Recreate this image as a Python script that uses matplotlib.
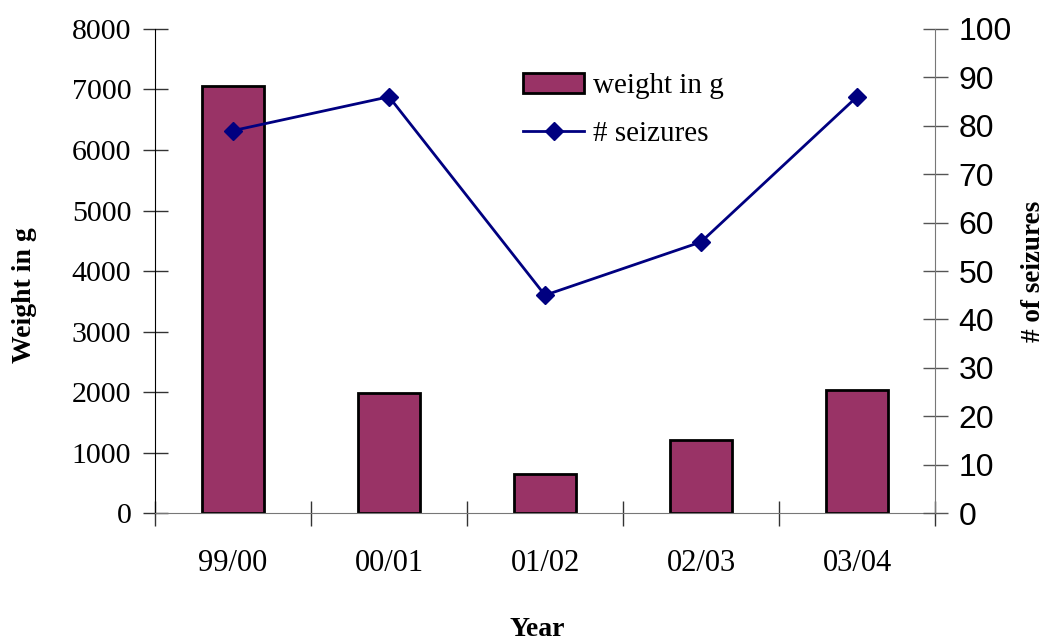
import matplotlib
matplotlib.use("Agg")
import matplotlib.pyplot as plt
import numpy as np

# data
years = ["99/00", "00/01", "01/02", "02/03", "03/04"]
weight_g = [7060, 1990, 650, 1200, 2030]
seizures = [79, 86, 45, 56, 86]

serif = ["Liberation Serif", "DejaVu Serif"]
sans = ["Liberation Sans", "DejaVu Sans"]

fig = plt.figure(figsize=(10.5, 6.4), dpi=100)
ax = fig.add_axes([0.1476, 0.1984, 0.7429, 0.7563])
ax2 = ax.twinx()

x = np.arange(len(years))
bars = ax.bar(x, weight_g, width=0.4, color="#993366", edgecolor="black",
              linewidth=2, label="weight in g", zorder=2)
line, = ax2.plot(x, seizures, color="#000080", linewidth=2, marker="D",
                 markersize=9, label="# seizures", zorder=3)

ax.set_xlim(-0.5, 4.5)
ax.set_ylim(0, 8000)
ax2.set_ylim(0, 100)

ax.set_yticks(np.arange(0, 8001, 1000))
ax2.set_yticks(np.arange(0, 101, 10))
ax.set_xticks(x)
ax.set_xticklabels(years, fontfamily=serif, fontsize=22)
ax.set_xticks(np.arange(-0.5, 4.6, 1), minor=True)
ax.tick_params(axis="x", which="major", length=0, pad=26)
ax.tick_params(axis="x", which="minor", direction="inout", length=18,
               width=1, color="#333333")

for lab in ax.get_yticklabels():
    lab.set_fontfamily(serif)
    lab.set_fontsize(21.5)
for lab in ax2.get_yticklabels():
    lab.set_fontfamily(sans)
    lab.set_fontsize(23)
ax.tick_params(axis="y", direction="inout", length=18, width=1,
               color="#333333", pad=8)
ax2.tick_params(axis="y", direction="inout", length=18, width=1,
                color="#555555", pad=8)

for a in (ax, ax2):
    a.spines["top"].set_visible(False)
ax.spines["left"].set_color("black")
ax.spines["bottom"].set_color("#777777")
ax2.spines["left"].set_visible(False)
ax2.spines["bottom"].set_visible(False)
ax2.spines["right"].set_color("#777777")
ax.spines["right"].set_visible(False)

ax.set_ylabel("Weight in g", fontfamily=serif, fontsize=20, fontweight="bold",
              va="center")
ax.yaxis.set_label_coords(-0.167, 0.45)
ax2.set_ylabel("# of seizures", fontfamily=serif, fontsize=19.5,
               fontweight="bold", rotation=90, va="center")
ax2.yaxis.set_label_coords(1.126, 0.5)
ax.set_xlabel("Year", fontfamily=serif, fontsize=20, fontweight="bold")
ax.xaxis.set_label_coords(0.49, -0.215)

leg = ax.legend([bars, line], ["weight in g", "# seizures"],
                loc="upper left", bbox_to_anchor=(0.472, 0.91),
                frameon=False, prop={"family": serif, "size": 21},
                handlelength=2.1, handleheight=0.7, labelspacing=0.75,
                handletextpad=0.3, borderpad=0, borderaxespad=0)

fig.savefig("out.png", dpi=100)
